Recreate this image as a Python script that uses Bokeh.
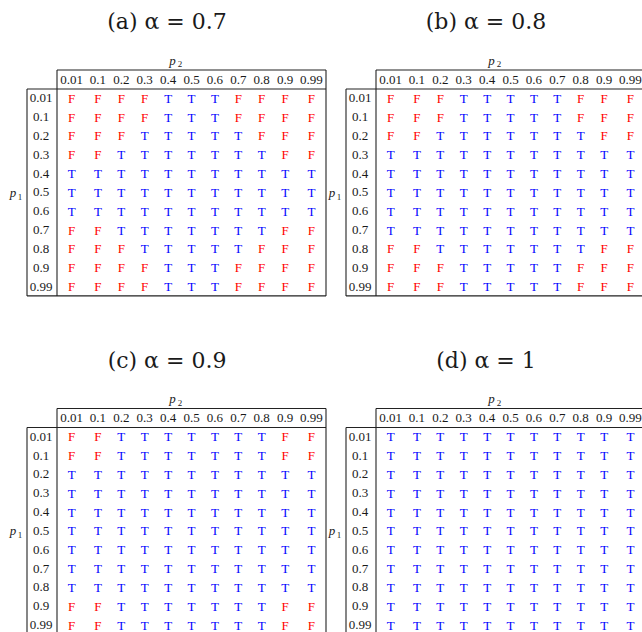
from bokeh.plotting import figure
from bokeh.models import ColumnDataSource, Range1d
from bokeh.core.properties import value
from bokeh.embed import file_html
from bokeh.resources import INLINE

# ---------------- data ----------------
p_values = ["0.01", "0.1", "0.2", "0.3", "0.4", "0.5", "0.6", "0.7", "0.8", "0.9", "0.99"]
panel_tags = ["(a)", "(b)", "(c)", "(d)"]
alpha_labels = ["0.7", "0.8", "0.9", "1"]

# rows: p1 (0.01 .. 0.99), characters: p2 (0.01 .. 0.99)
result_alpha_07 = [
    "FFFFTTTFFFF",
    "FFFFTTTFFFF",
    "FFFTTTTTFFF",
    "FFTTTTTTTFF",
    "TTTTTTTTTTT",
    "TTTTTTTTTTT",
    "TTTTTTTTTTT",
    "FFTTTTTTTFF",
    "FFFTTTTTFFF",
    "FFFFTTTFFFF",
    "FFFFTTTFFFF",
]
result_alpha_08 = [
    "FFFTTTTTFFF",
    "FFFTTTTTFFF",
    "FFTTTTTTTFF",
    "TTTTTTTTTTT",
    "TTTTTTTTTTT",
    "TTTTTTTTTTT",
    "TTTTTTTTTTT",
    "TTTTTTTTTTT",
    "FFTTTTTTTFF",
    "FFFTTTTTFFF",
    "FFFTTTTTFFF",
]
result_alpha_09 = [
    "FFTTTTTTTFF",
    "FFTTTTTTTFF",
    "TTTTTTTTTTT",
    "TTTTTTTTTTT",
    "TTTTTTTTTTT",
    "TTTTTTTTTTT",
    "TTTTTTTTTTT",
    "TTTTTTTTTTT",
    "TTTTTTTTTTT",
    "FFTTTTTTTFF",
    "FFTTTTTTTFF",
]
result_alpha_10 = [
    "TTTTTTTTTTT",
    "TTTTTTTTTTT",
    "TTTTTTTTTTT",
    "TTTTTTTTTTT",
    "TTTTTTTTTTT",
    "TTTTTTTTTTT",
    "TTTTTTTTTTT",
    "TTTTTTTTTTT",
    "TTTTTTTTTTT",
    "TTTTTTTTTTT",
    "TTTTTTTTTTT",
]
results = [result_alpha_07, result_alpha_08, result_alpha_09, result_alpha_10]

# ---------------- layout (pixels) ----------------
W, H = 642, 632
PANEL_OFFSETS = [(0, 0), (319, 0), (0, 338.5), (319, 338.5)]
TITLE_X, TITLE_Y = 166.5, 21.0
TABLE_LEFT, SEP_X = 26.5, 56.5
HEAD_TOP, HEAD_BOT = 69.5, 88.5
HEAD_Y = 79.0
ROW0, ROW_H = 97.7, 18.83
WIDE_W, NARROW_W = 29.2, 23.4
LABEL_X = 40.7
SERIF = "Liberation Serif"
TITLE_FONT = "DejaVu Serif"
TEXT_COLOR = "#1a1a1a"
LINE_COLOR = "#222222"
COLOR_T, COLOR_F = "#0000ff", "#ff0000"

# column centres from column widths (wide for two-decimal labels)
col_w = [WIDE_W if len(v) == 4 else NARROW_W for v in p_values]
col_x = []
acc = SEP_X
for w in col_w:
    col_x.append(acc + w / 2)
    acc += w
TABLE_RIGHT = acc
row_y = [ROW0 + i * ROW_H for i in range(len(p_values))]
TABLE_BOT = row_y[-1] + ROW_H / 2

p = figure(width=W, height=H, x_range=Range1d(0, W), y_range=Range1d(H, 0),
           output_backend="svg", toolbar_location=None,
           x_axis_type=None, y_axis_type=None, min_border=0)
p.grid.visible = False
p.outline_line_color = None
p.background_fill_color = "white"
p.border_fill_color = "white"

cells = dict(x=[], y=[], text=[], color=[])
heads = dict(x=[], y=[], text=[])
rows = dict(x=[], y=[], text=[])
titles = dict(x=[], y=[], text=[])
plabel = dict(x=[], y=[], text=[])
psub = dict(x=[], y=[], text=[])
seg = dict(x0=[], y0=[], x1=[], y1=[])

for k, (dx, dy) in enumerate(PANEL_OFFSETS):
    titles["x"].append(TITLE_X + dx)
    titles["y"].append(TITLE_Y + dy)
    titles["text"].append(f"{panel_tags[k]} \u03b1 = {alpha_labels[k]}")

    # axis names p2 (top) and p1 (left)
    plabel["x"] += [172 + dx, 12.5 + dx]
    plabel["y"] += [59.8 + dy, 191.8 + dy]
    plabel["text"] += ["p", "p"]
    psub["x"] += [179.5 + dx, 19.5 + dx]
    psub["y"] += [63.5 + dy, 196.0 + dy]
    psub["text"] += ["2", "1"]

    for j, v in enumerate(p_values):
        heads["x"].append(col_x[j] + dx)
        heads["y"].append(HEAD_Y + dy)
        heads["text"].append(v)
    for i, v in enumerate(p_values):
        rows["x"].append(LABEL_X + dx)
        rows["y"].append(row_y[i] + dy)
        rows["text"].append(v)
        for j in range(len(p_values)):
            ch = results[k][i][j]
            cells["x"].append(col_x[j] + dx)
            cells["y"].append(row_y[i] + dy)
            cells["text"].append(ch)
            cells["color"].append(COLOR_T if ch == "T" else COLOR_F)

    lines = [
        (SEP_X, HEAD_TOP, TABLE_RIGHT, HEAD_TOP),
        (TABLE_LEFT, HEAD_BOT, TABLE_RIGHT, HEAD_BOT),
        (TABLE_LEFT, TABLE_BOT, TABLE_RIGHT, TABLE_BOT),
        (TABLE_LEFT, HEAD_BOT, TABLE_LEFT, TABLE_BOT),
        (SEP_X, HEAD_TOP, SEP_X, TABLE_BOT),
        (TABLE_RIGHT, HEAD_TOP, TABLE_RIGHT, TABLE_BOT),
    ]
    for x0, y0, x1, y1 in lines:
        seg["x0"].append(x0 + dx)
        seg["y0"].append(y0 + dy)
        seg["x1"].append(x1 + dx)
        seg["y1"].append(y1 + dy)

p.segment(x0="x0", y0="y0", x1="x1", y1="y1", source=ColumnDataSource(seg),
          line_color=LINE_COLOR, line_width=1.1)

p.text(x="x", y="y", text="text", source=ColumnDataSource(titles),
       text_font=value(TITLE_FONT), text_font_size=value("22px"),
       text_align="center", text_baseline="middle", text_color=TEXT_COLOR)
p.text(x="x", y="y", text="text", source=ColumnDataSource(heads),
       text_font=value(SERIF), text_font_size=value("13px"),
       text_align="center", text_baseline="middle", text_color=TEXT_COLOR)
p.text(x="x", y="y", text="text", source=ColumnDataSource(rows),
       text_font=value(SERIF), text_font_size=value("13px"),
       text_align="center", text_baseline="middle", text_color=TEXT_COLOR)
p.text(x="x", y="y", text="text", source=ColumnDataSource(cells),
       text_font=value(SERIF), text_font_size=value("13px"),
       text_align="center", text_baseline="middle", text_color="color")
p.text(x="x", y="y", text="text", source=ColumnDataSource(plabel),
       text_font=value(SERIF), text_font_size=value("13px"), text_font_style="italic",
       text_align="center", text_baseline="middle", text_color=TEXT_COLOR)
p.text(x="x", y="y", text="text", source=ColumnDataSource(psub),
       text_font=value(SERIF), text_font_size=value("9px"),
       text_align="center", text_baseline="middle", text_color=TEXT_COLOR)

open("out.html", "w").write(file_html(p, INLINE))
